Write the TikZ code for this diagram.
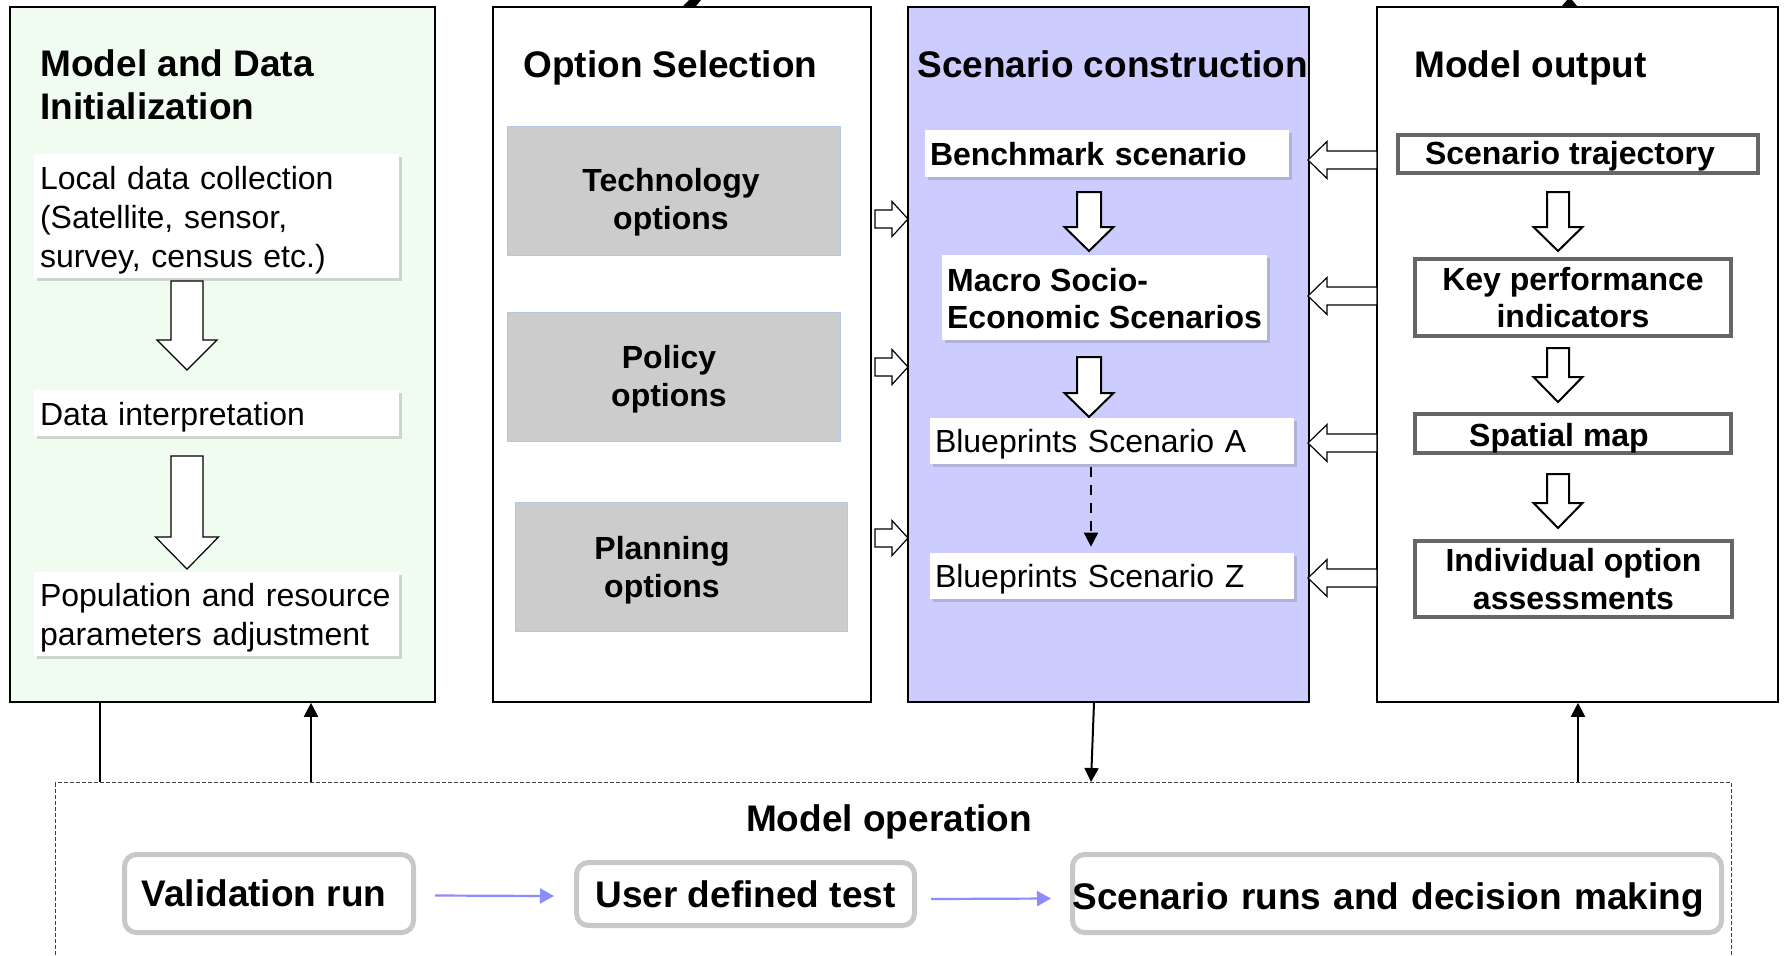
\documentclass[tikz,border=0pt]{standalone}
\usepackage{fontspec}
\setmainfont{Liberation Sans}
\usetikzlibrary{arrows.meta,shadows}
\hyphenpenalty=10000
\exhyphenpenalty=10000
\definecolor{greenbg}{HTML}{F0FCF0}
\definecolor{bluebg}{HTML}{CCCCFF}
\definecolor{optgray}{HTML}{CCCCCC}
\definecolor{optedge}{HTML}{B4C6E7}
\definecolor{outedge}{HTML}{666666}
\definecolor{rndedge}{HTML}{C8C8C8}
\definecolor{flowblue}{HTML}{8C8CFF}
\newcommand\tstrut[1]{\rule{0pt}{#1}}
% block arrow down: cx, ytop, yhead, ytip, shafthalf, headhalf
\newcommand\blkdown[7][]{%
  \draw[blockarrow,#1] (#2-#6,#3) -- (#2+#6,#3) -- (#2+#6,#4) -- (#2+#7,#4) -- (#2,#5) -- (#2-#7,#4) -- (#2-#6,#4) -- cycle;}
% block arrow horizontal: xtail, xhead, xtip, cy, shafthalf, headhalf
\newcommand\blkside[7][]{%
  \draw[blockarrow,#1] (#2,#5-#6) -- (#3,#5-#6) -- (#3,#5-#7) -- (#4,#5) -- (#3,#5+#7) -- (#3,#5+#6) -- (#2,#5+#6) -- cycle;}
\begin{document}
\begin{tikzpicture}[x=0.5pt,y=-0.5pt,
  colbox/.style={draw=black,line width=0.9pt,anchor=north west,inner sep=0pt,minimum height=347.5pt},
  title/.style={font=\fontsize{18.5}{21.5}\selectfont\bfseries,inner sep=0pt,align=left},
  wbox/.style={fill=white,align=left,inner xsep=3pt,inner ysep=0pt,
     font=\fontsize{16}{19.5}\selectfont,
     drop shadow={shadow xshift=1.5pt,shadow yshift=-1.5pt,opacity=0.25,fill=black!60}},
  optbox/.style={fill=optgray,draw=optedge,line width=0.5pt,inner sep=0pt},
  opttext/.style={font=\fontsize{16}{19}\selectfont\bfseries,align=center,inner sep=0pt},
  outbox/.style={draw=outedge,line width=2pt,fill=white,inner sep=0pt,align=center,
     font=\fontsize{16}{18.75}\selectfont\bfseries},
  rndbox/.style={draw=rndedge,line width=2.5pt,rounded corners=6pt,fill=white,inner sep=0pt,
     font=\fontsize{18.5}{21.5}\selectfont\bfseries},
  blockarrow/.style={draw=black,fill=white,line width=0.6pt,line join=miter},
  conn/.style={draw=black,line width=1pt},
  tip/.style={-{Triangle[length=7pt,width=7pt]}},
  flow/.style={draw=flowblue,line width=1.1pt,-{Triangle[length=7pt,width=7.5pt]}},
]
\clip (0,0) rectangle (1784,955);
\fill[white] (0,0) rectangle (1784,955);

% cropped arrowheads at the top edge
\fill (683,6) -- (696,6) -- (701,0) -- (689,0) -- cycle;
\fill (1562,6) -- (1577,6) -- (1572,0) -- (1567,0) -- cycle;

% columns
\node[colbox,fill=greenbg,minimum width=212.5pt] (c1) at (9,6) {};
\node[colbox,fill=white,minimum width=189pt] (c2) at (492,6) {};
\node[colbox,fill=bluebg,minimum width=200.5pt] (c3) at (907,6) {};
\node[colbox,fill=white,minimum width=200.5pt] (c4) at (1376,6) {};

% titles
\node[title,anchor=west] (t1) at (40,85) {Model and Data\\Initialization};
\node[title,anchor=base west] (t2) at (523,77) {Option Selection};
\node[title,anchor=base west] (t3) at (917,77) {Scenario construction};
\node[title,anchor=base west] (t4) at (1414,77) {Model output};

% column 1
\node[wbox,text width=176.5pt,minimum height=62pt] (lc) at (216.5,216) {\tstrut{15.5pt}Local data collection\\(Satellite, sensor,\\survey, census etc.)};
\node[wbox,text width=176.5pt,minimum height=23pt] (di) at (216.5,413) {\tstrut{15.5pt}Data interpretation};
\node[wbox,text width=176.5pt,minimum height=42pt] (pr) at (216.5,614) {\tstrut{15.5pt}Population and resource\\parameters adjustment};
\blkdown{187}{281}{340}{370}{16}{30}
\blkdown{187}{456}{537}{569}{16}{31.5}

% column 2
\node[optbox,minimum width=166.5pt,minimum height=64.5pt] (tech) at (673.5,190.5) {};
\node[opttext] (techt) at (671,202) {Technology\\options};
\node[optbox,minimum width=166.5pt,minimum height=64.5pt] (pol) at (673.5,376.5) {};
\node[opttext] (polt) at (669,379) {Policy\\options};
\node[optbox,minimum width=166pt,minimum height=64.5pt] (plan) at (681,566.5) {};
\node[opttext] (plant) at (662,570) {Planning\\options};
\blkside{875}{892}{908}{219}{9}{17.5}
\blkside{875}{892}{908}{367}{9}{17.5}
\blkside{875}{892}{908}{538}{9}{17.5}

% column 3
\node[wbox,font=\fontsize{16}{19.5}\selectfont\bfseries,inner xsep=2.5pt,text width=177pt,minimum height=23.5pt] (bench) at (1107,153.5) {\tstrut{12.5pt}Benchmark scenario};
\node[wbox,font=\fontsize{16}{18.5}\selectfont\bfseries,inner xsep=0pt,minimum width=162.5pt,minimum height=42.5pt] (macro) at (1104.5,297.5) {\tstrut{12.5pt}Macro Socio-\\Economic Scenarios};
\node[wbox,inner xsep=2.5pt,text width=177pt,minimum height=23pt] (bpa) at (1112,441) {\tstrut{15pt}Blueprints Scenario A};
\node[wbox,inner xsep=2.5pt,text width=177pt,minimum height=23pt] (bpz) at (1112,576) {\tstrut{15pt}Blueprints Scenario Z};
\blkdown[line width=1pt]{1089}{192}{227}{251}{12}{24.5}
\blkdown[line width=1pt]{1089}{357}{393}{417}{12}{24.5}
\draw[conn,dashed,dash pattern=on 5pt off 4pt,-{Triangle[length=7pt,width=7pt]}] ([xshift=-10.5pt,yshift=-1.5pt]bpa.south) -- ([xshift=-10.5pt,yshift=3pt]bpz.north);

% column 4
\node[outbox,minimum width=180pt,minimum height=19pt] (traj) at (1578,154) {\tstrut{13.8pt}Scenario trajectory\kern8pt};
\node[outbox,minimum width=158pt,minimum height=38.5pt] (kpi) at (1573,297.5) {Key performance\\indicators};
\node[outbox,minimum width=158pt,minimum height=18.5pt] (smap) at (1573,433.5) {\tstrut{16pt}Spatial map\kern14pt};
\node[outbox,minimum width=158.5pt,minimum height=38pt] (indiv) at (1573.5,579) {Individual option\\assessments};
\blkdown[line width=1pt]{1558}{192}{227}{251}{11}{24.5}
\blkdown[line width=1pt]{1558}{348}{377}{402}{11}{24.5}
\blkdown[line width=1pt]{1558}{474}{503}{528}{11}{24.5}
\blkside{1377}{1327}{1308}{160}{9}{18.5}
\blkside{1377}{1327}{1308}{296}{9}{18.5}
\blkside{1377}{1327}{1308}{443}{9}{18.5}
\blkside{1377}{1327}{1308}{578}{9}{18.5}

% model operation
\node[draw=black!75,line width=0.6pt,dash pattern=on 2pt off 1pt,anchor=north west,inner sep=0pt,
      minimum width=838pt,minimum height=130pt] (mop) at (55,782) {};
\node[title,anchor=base] (mopt) at (889,831) {Model operation};
\node[rndbox,minimum width=144.5pt,minimum height=39pt] (val) at (269,893.5) {Validation run\kern5pt};
\node[rndbox,minimum width=169pt,minimum height=31.5pt] (user) at (745.5,894) {User defined test};
\node[rndbox,align=left,text width=324.5pt,inner xsep=0pt,minimum height=39pt] (runs) at (1397,893.5) {\tstrut{20.3pt}Scenario runs and decision making};
\draw[flow] ([xshift=9.5pt,yshift=-1pt]val.east) -- ([xshift=-10pt,yshift=-1pt]user.west);
\draw[flow] ([xshift=7pt,yshift=-2.5pt]user.east) -- ([xshift=-9.5pt,yshift=-2.5pt]runs.west);

% connectors between columns and model operation
\draw[conn] ([xshift=45.5pt]c1.south west) -- ([xshift=45.5pt]c1.south west |- mop.north);
\draw[conn,tip] ([xshift=151pt]c1.south west |- mop.north) -- ([xshift=151pt]c1.south west);
\draw[conn,tip] ([xshift=93.5pt]c3.south west) -- ([xshift=92pt]c3.south west |- mop.north);
\draw[conn,tip] ([xshift=101pt]c4.south west |- mop.north) -- ([xshift=101pt]c4.south west);
\end{tikzpicture}
\end{document}
